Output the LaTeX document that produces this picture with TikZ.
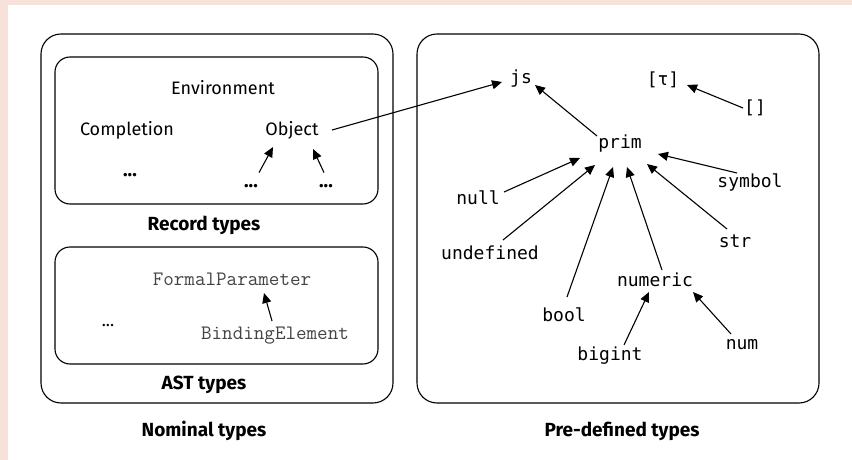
\documentclass[tikz,border=0pt]{standalone}
\usepackage{fontspec}
\setmainfont{Fira Sans}
\newfontfamily\djmono{DejaVu Sans Mono}
\usetikzlibrary{arrows.meta,calc}
\definecolor{pagetint}{HTML}{F7E2DB}
\definecolor{astgrey}{HTML}{444444}
\begin{document}
\begin{tikzpicture}[x=1pt,y=-1pt,
  frame/.style={draw,line width=1.1pt,rounded corners=#1},
  arr/.style={line width=1.1pt,-{Triangle[length=10pt,width=9pt]}},
  lbl/.style={inner sep=0pt,font=\fontsize{18}{20}\selectfont},
  ttl/.style={inner sep=0pt,font=\fontsize{19}{22}\selectfont\bfseries},
  dots/.style={inner sep=0pt,anchor=base,font=\fontsize{19}{20}\selectfont\bfseries},
  mono/.style={inner sep=0pt,font=\fontsize{18}{20}\djmono},
  ast/.style={inner sep=0pt,text=astgrey,font=\fontsize{20.5}{22}\ttfamily}]
% page with tinted top and left margins
\fill[pagetint] (0,0) rectangle (852,460);
\fill[white] (8,5) rectangle (852,460);
\useasboundingbox (0,0) rectangle (852,460);

% nominal types
\draw[frame=20pt] (41,34) rectangle (393,403);
\draw[frame=15pt] (55,57) rectangle (378,204);
\draw[frame=15pt] (55,247) rectangle (378,364);

\node[lbl] (env) at (223,88) {Environment};
\node[lbl] (compl) at (127,130) {Completion};
\node[lbl] (obj) at (292,130) {Object};
\node[dots] (dotsA) at (130,176) {...};
\node[dots] (dotsB) at (251,187) {...};
\node[dots] (dotsC) at (326,187) {...};
\node[ttl] (rec) at (204,225) {Record types};

\node[ast] (formal) at (232,279) {FormalParameter};
\node[ast] (binding) at (275,336) {BindingElement};
\node[dots,font=\fontsize{17}{20}\selectfont] (dotsD) at (108,326) {...};
\node[ttl] (asttl) at (204,385) {AST types};
\node[ttl] (nominal) at (204,431) {Nominal types};

\draw[arr] ($(dotsB)+(8,-13)$) -- ($(obj)+(-19,17)$);
\draw[arr] ($(dotsC)+(-2,-13)$) -- ($(obj)+(21,19)$);
\draw[arr] ($(binding)+(-3,-15)$) -- ($(formal)+(32,14)$);

% pre-defined types
\draw[frame=20pt] (417,34) rectangle (819,403);

\node[mono] (js) at (521,79) {js};
\node[mono] (tau) at (663,80) {[τ]};
\node[mono] (empty) at (755,108) {[]};
\node[mono] (prim) at (620,144) {prim};
\node[mono] (null) at (478,198) {null};
\node[mono] (symbol) at (750,182) {symbol};
\node[mono] (undef) at (490,253) {undefined};
\node[mono] (str) at (735,241) {str};
\node[mono] (numeric) at (655,280) {numeric};
\node[mono] (bool) at (564,315) {bool};
\node[mono] (bigint) at (610,356) {bigint};
\node[mono] (num) at (742,345) {num};
\node[ttl] (predef) at (622,431) {Pre-defined types};

\draw[arr] ($(obj)+(40,0)$) -- ($(js)+(-19,3)$);
\draw[arr] ($(prim)+(-23,-8)$) -- ($(js)+(14,6)$);
\draw[arr] ($(empty)+(-12,0)$) -- ($(tau)+(24,5)$);
\draw[arr] ($(null)+(26,-6)$) -- ($(prim)+(-40,14)$);
\draw[arr] ($(undef)+(13,-13)$) -- ($(prim)+(-25,21)$);
\draw[arr] ($(bool)+(3,-18)$) -- ($(prim)+(-7,23)$);
\draw[arr] ($(numeric)+(7,-10)$) -- ($(prim)+(7,23)$);
\draw[arr] ($(str)+(-8,-12)$) -- ($(prim)+(27,20)$);
\draw[arr] ($(symbol)+(-13,-9)$) -- ($(prim)+(38,10)$);
\draw[arr] ($(bigint)+(14,-11)$) -- ($(numeric)+(-6,12)$);
\draw[arr] ($(num)+(-11,-11)$) -- ($(numeric)+(38,12)$);
\end{tikzpicture}
\end{document}
